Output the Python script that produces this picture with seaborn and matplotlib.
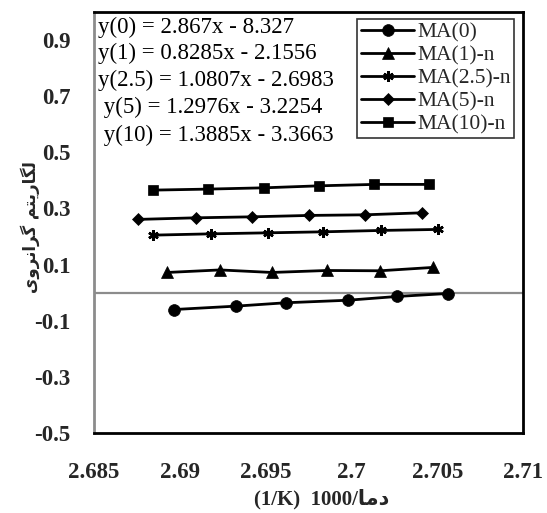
import numpy as np
import pandas as pd
import matplotlib
matplotlib.use("Agg")
import matplotlib.pyplot as plt
import seaborn as sns

# ---- data ----
series_names = ["MA(0)", "MA(1)-n", "MA(2.5)-n", "MA(5)-n", "MA(10)-n"]
x_ma0 = [2.68968, 2.69327, 2.69617, 2.69978, 2.70267, 2.70561]
y_ma0 = [-0.060, -0.048, -0.036, -0.027, -0.0135, -0.003]
x_ma1 = [2.68927, 2.69234, 2.69536, 2.69856, 2.70167, 2.70477]
y_ma1 = [0.072, 0.081, 0.072, 0.079, 0.078, 0.090]
x_ma25 = [2.68846, 2.69182, 2.69512, 2.69836, 2.70173, 2.70503]
y_ma25 = [0.205, 0.2096, 0.2132, 0.2168, 0.2217, 0.2253]
x_ma5 = [2.68755, 2.69093, 2.69419, 2.69755, 2.70079, 2.70410]
y_ma5 = [0.261, 0.2667, 0.2702, 0.2752, 0.2774, 0.2845]
x_ma10 = [2.68846, 2.69166, 2.69492, 2.69813, 2.70132, 2.70452]
y_ma10 = [0.3654, 0.369, 0.3736, 0.3807, 0.3857, 0.3857]

equations = ["y(0) = 2.867x - 8.327",
             "y(1) = 0.8285x - 2.1556",
             "y(2.5) = 1.0807x - 2.6983",
             " y(5) = 1.2976x - 3.2254",
             " y(10) = 1.3885x - 3.3663"]

x_ticks = [2.685, 2.69, 2.695, 2.7, 2.705, 2.71]
x_tick_labels = ["2.685", "2.69", "2.695", "2.7", "2.705", "2.71"]
y_ticks = [-0.5, -0.3, -0.1, 0.1, 0.3, 0.5, 0.7, 0.9]
y_tick_labels = ["-0.5", "-0.3", "-0.1", "0.1", "0.3", "0.5", "0.7", "0.9"]

ylabel_fa = "لگاریتم گرانروی"
xlabel_fa_word = "دما"
xlabel_rest = "(1/K)  1000/"

# ---- minimal Persian shaping (presentation forms, visual order) ----
FORMS = {  # isol, final, init, medial
    "ل": ("\uFEDD", "\uFEDE", "\uFEDF", "\uFEE0"),
    "گ": ("\uFB92", "\uFB93", "\uFB94", "\uFB95"),
    "ا": ("\uFE8D", "\uFE8E", None, None),
    "ر": ("\uFEAD", "\uFEAE", None, None),
    "ی": ("\uFBFC", "\uFBFD", "\uFBFE", "\uFBFF"),
    "ت": ("\uFE95", "\uFE96", "\uFE97", "\uFE98"),
    "م": ("\uFEE1", "\uFEE2", "\uFEE3", "\uFEE4"),
    "ن": ("\uFEE5", "\uFEE6", "\uFEE7", "\uFEE8"),
    "و": ("\uFEED", "\uFEEE", None, None),
    "د": ("\uFEA9", "\uFEAA", None, None),
}


def shape(text):
    out = []
    n = len(text)
    for i, ch in enumerate(text):
        if ch not in FORMS:
            out.append(ch)
            continue
        f = FORMS[ch]
        prev = text[i - 1] if i > 0 else None
        nxt = text[i + 1] if i < n - 1 else None
        jp = prev in FORMS and FORMS[prev][2] is not None
        jn = nxt in FORMS and f[2] is not None
        if jp and jn:
            g = f[3]
        elif jp:
            g = f[1]
        elif jn:
            g = f[2]
        else:
            g = f[0]
        out.append(g)
    return "".join(reversed(out))


# ---- long-form table ----
xs = [x_ma0, x_ma1, x_ma25, x_ma5, x_ma10]
ys = [y_ma0, y_ma1, y_ma25, y_ma5, y_ma10]
df = pd.concat([pd.DataFrame({"x": x, "y": y, "series": name})
                for name, x, y in zip(series_names, xs, ys)], ignore_index=True)

sns.set_theme(style="white")
plt.rcParams["font.family"] = ["Liberation Serif", "DejaVu Sans"]

fig = plt.figure(figsize=(5.47, 5.13), dpi=100)
ax = fig.add_axes([94 / 547, 1 - 433 / 513, (523 - 94) / 547, (433 - 12) / 513])

markers = {"MA(0)": "o", "MA(1)-n": "^", "MA(2.5)-n": (6, 2, 0),
           "MA(5)-n": "D", "MA(10)-n": "s"}
msizes = {"MA(0)": 8.5, "MA(1)-n": 8, "MA(2.5)-n": 7.5,
          "MA(5)-n": 6.5, "MA(10)-n": 7.5}

ax.axhline(0, color="#8c8c8c", lw=1.6, zorder=1)

for name in series_names:
    sub = df[df["series"] == name]
    sns.lineplot(data=sub, x="x", y="y", ax=ax, color="black", lw=2.0,
                 marker=markers[name], markersize=msizes[name],
                 markeredgecolor="black", markerfacecolor="black",
                 markeredgewidth=1.8 if name == "MA(2.5)-n" else 0.5,
                 label=name, sort=False, estimator=None, zorder=3)

ax.set_xlim(2.685, 2.71)
ax.set_ylim(-0.5, 1.0)
ax.set_xticks(x_ticks)
ax.set_xticklabels(x_tick_labels)
ax.set_yticks(y_ticks)
ax.set_yticklabels(y_tick_labels)
ax.tick_params(axis="both", length=0, labelsize=16.5)
ax.tick_params(axis="x", pad=21)
ax.tick_params(axis="y", pad=17)
for lab in ax.get_xticklabels() + ax.get_yticklabels():
    lab.set_fontweight("bold")

for s in ["top", "right", "bottom"]:
    ax.spines[s].set_color("black")
    ax.spines[s].set_linewidth(2.0)
ax.spines["left"].set_color("#8c8c8c")
ax.spines["left"].set_linewidth(2.0)

ax.set_xlabel(xlabel_rest + shape(xlabel_fa_word), fontsize=15, fontweight="bold")
ax.xaxis.set_label_coords(0.53, -0.133)
ax.set_ylabel(shape(ylabel_fa), fontsize=12, fontweight="bold",
              family=["DejaVu Sans"])
ax.yaxis.set_label_coords(-0.125, 0.49)

eq_y = [27, 53, 80, 107, 135]
for txt, yy in zip(equations, eq_y):
    ax.text(98, 513 - yy, txt, transform=None, fontsize=16.5,
            va="center", ha="left", color="black")

leg = ax.legend(loc="upper right", bbox_to_anchor=(0.98, 0.983), fontsize=15.5,
                frameon=True, fancybox=False, edgecolor="black",
                handlelength=2.5, handletextpad=0.15, labelspacing=0.14,
                borderpad=0.15, borderaxespad=0.0)
leg.get_frame().set_linewidth(1.2)

fig.savefig("out.png", dpi=100)
